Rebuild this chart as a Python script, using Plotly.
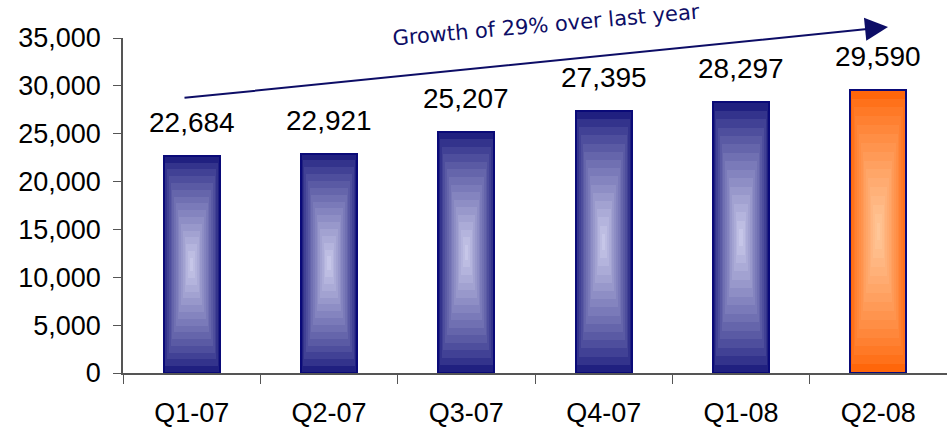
import plotly.graph_objects as go

categories = ["Q1-07", "Q2-07", "Q3-07", "Q4-07", "Q1-08", "Q2-08"]
values = [22684, 22921, 25207, 27395, 28297, 29590]
value_labels = ["22,684", "22,921", "25,207", "27,395", "28,297", "29,590"]
highlight = [False, False, False, False, False, True]
arrow_text = "Growth of 29% over last year"

NAVY_EDGE = (32, 32, 128)
NAVY_CENTER = (198, 198, 232)
ORANGE_EDGE = (255, 102, 10)
ORANGE_CENTER = (255, 198, 152)
OUTLINE = "#0a0a78"

def mix(a, b, t):
    return "rgb(%d,%d,%d)" % tuple(round(a[i] + (b[i] - a[i]) * t) for i in range(3))

BAR_W = 0.41
N = 16
fig = go.Figure()
for k in range(N):
    t = k / N
    ct = (k / (N - 1)) ** 0.8
    colors = [mix(ORANGE_EDGE, ORANGE_CENTER, ct) if h else mix(NAVY_EDGE, NAVY_CENTER, ct)
              for h in highlight]
    base = [v * t * 0.5 for v in values]
    heights = [v * (1 - t) for v in values]
    fig.add_trace(go.Bar(
        x=categories, y=heights, base=base,
        width=[BAR_W * (1 - t)] * len(values),
        marker=dict(color=colors,
                    line=dict(color=OUTLINE if k == 0 else "rgba(0,0,0,0)",
                              width=2 if k == 0 else 0)),
        hoverinfo="skip", showlegend=False,
    ))

for c, v, lab in zip(categories, values, value_labels):
    fig.add_annotation(x=c, y=v, text=lab, showarrow=False, yanchor="bottom",
                       yshift=16, font=dict(family="Liberation Sans, Arial", size=28, color="black"))

# growth arrow
fig.add_annotation(xref="paper", yref="paper", x=(888 - 123) / 824, y=(373 - 27) / 335,
                   axref="pixel", ayref="pixel", ax=-705, ay=71, text="",
                   showarrow=True, arrowhead=2, arrowsize=2.3, arrowwidth=2,
                   arrowcolor="#0d0d66")
fig.add_annotation(xref="paper", yref="paper", x=(546 - 123) / 824, y=(373 - 25) / 335,
                   xanchor="center", yanchor="middle",
                   text=arrow_text, showarrow=False, textangle=-5,
                   font=dict(family="DejaVu Sans, Verdana", size=21, color="#0d0d66"))

fig.update_layout(
    width=947, height=429,
    margin=dict(l=123, r=0, t=38, b=56),
    barmode="overlay",
    bargap=0,
    plot_bgcolor="white", paper_bgcolor="white",
    font=dict(family="Liberation Sans, Arial", size=27, color="black"),
)
fig.update_xaxes(type="category", showline=True, linecolor="#555555", linewidth=1.5,
                 ticks="outside", tickson="boundaries", ticklen=9, tickcolor="#555555",
                 ticklabelstandoff=15, showgrid=False)
fig.update_yaxes(range=[0, 35000], dtick=5000, tickformat=",", showline=True,
                 linecolor="#555555", linewidth=1.5, ticks="outside", ticklen=8,
                 tickcolor="#555555", showgrid=False, zeroline=False, ticklabelstandoff=7)

fig.write_html("out.html", config={"displayModeBar": False},
               post_script="document.body.style.margin='0';document.body.style.overflow='hidden';")
